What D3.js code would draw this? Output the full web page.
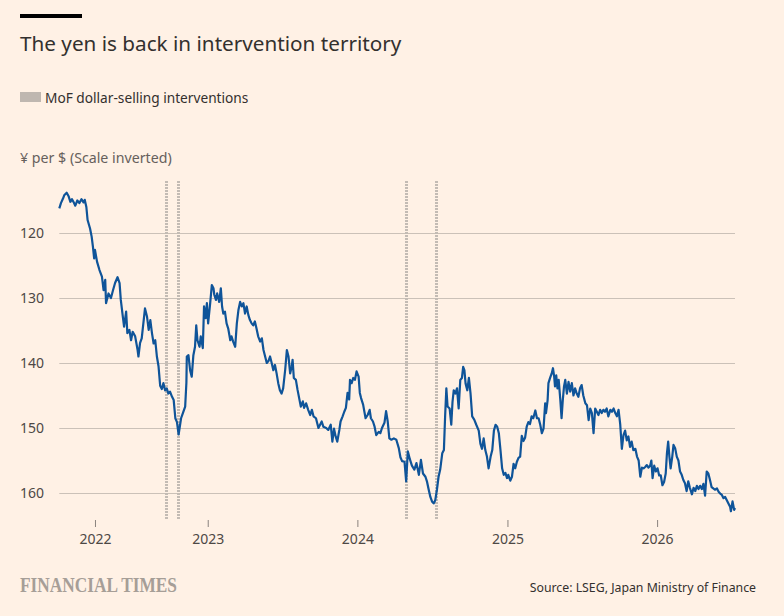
<!DOCTYPE html>
<html>
<head>
<meta charset="utf-8">
<script src="https://cdn.jsdelivr.net/npm/d3@7"></script>
<style>
    html, body { margin: 0; padding: 0; background: #fff1e5; }
    svg { display: block; font-family: "Noto Sans", "Open Sans", sans-serif; }
</style>
</head>
<body>
<div id="chart"></div>
<script>
// Yen per dollar
const dates = [
    '2022-01-04','2022-01-08','2022-01-13','2022-01-16','2022-01-22','2022-01-27','2022-01-31','2022-02-04','2022-02-09','2022-02-12',
    '2022-02-17','2022-02-22','2022-02-27','2022-03-04','2022-03-07','2022-03-11','2022-03-14','2022-03-20','2022-03-24','2022-03-27',
    '2022-03-30','2022-04-01','2022-04-06','2022-04-12','2022-04-18','2022-04-22','2022-04-26','2022-04-28','2022-05-04','2022-05-10',
    '2022-05-15','2022-05-20','2022-05-26','2022-05-31','2022-06-03','2022-06-08','2022-06-11','2022-06-16','2022-06-19','2022-06-24',
    '2022-06-28','2022-07-02','2022-07-08','2022-07-14','2022-07-16','2022-07-20','2022-07-24','2022-07-28','2022-08-01','2022-08-06',
    '2022-08-10','2022-08-14','2022-08-18','2022-08-22','2022-08-26','2022-08-30','2022-09-03','2022-09-07','2022-09-11','2022-09-15',
    '2022-09-19','2022-09-23','2022-09-27','2022-10-01','2022-10-06','2022-10-10','2022-10-14','2022-10-18','2022-10-22','2022-10-28',
    '2022-11-01','2022-11-07','2022-11-10','2022-11-11','2022-11-15','2022-11-19','2022-11-23','2022-11-27','2022-12-01','2022-12-04',
    '2022-12-07','2022-12-12','2022-12-15','2022-12-20','2022-12-23','2022-12-27','2022-12-30',
    '2023-01-02','2023-01-07','2023-01-11','2023-01-15','2023-01-17','2023-01-21','2023-01-24','2023-01-29','2023-02-02','2023-02-05',
    '2023-02-08','2023-02-12','2023-02-16','2023-02-20','2023-02-25','2023-02-28','2023-03-04','2023-03-09','2023-03-13','2023-03-17',
    '2023-03-21','2023-03-25','2023-03-29','2023-04-02','2023-04-06','2023-04-10','2023-04-14','2023-04-18','2023-04-22','2023-04-26',
    '2023-04-30','2023-05-04','2023-05-09','2023-05-13','2023-05-17','2023-05-21','2023-05-25','2023-05-29','2023-06-02','2023-06-06',
    '2023-06-10','2023-06-14','2023-06-18','2023-06-22','2023-06-26','2023-06-30','2023-07-04','2023-07-09','2023-07-13','2023-07-17',
    '2023-07-21','2023-07-25','2023-07-27','2023-07-30','2023-08-04','2023-08-08','2023-08-12','2023-08-16','2023-08-21','2023-08-24',
    '2023-08-29','2023-09-03','2023-09-08','2023-09-12','2023-09-16','2023-09-22','2023-09-28','2023-10-02','2023-10-06','2023-10-10',
    '2023-10-17','2023-10-22','2023-10-28','2023-11-01','2023-11-05','2023-11-09','2023-11-13','2023-11-18','2023-11-21','2023-11-26',
    '2023-11-30','2023-12-04','2023-12-08','2023-12-12','2023-12-14','2023-12-18','2023-12-22','2023-12-26','2023-12-30',
    '2024-01-04','2024-01-07','2024-01-10','2024-01-15','2024-01-21','2024-01-26','2024-01-31','2024-02-03','2024-02-08','2024-02-12',
    '2024-02-16','2024-02-22','2024-02-26','2024-03-01','2024-03-07','2024-03-11','2024-03-15','2024-03-19','2024-03-24','2024-03-30',
    '2024-04-05','2024-04-11','2024-04-15','2024-04-19','2024-04-25','2024-04-29','2024-05-03','2024-05-08','2024-05-13','2024-05-19',
    '2024-05-24','2024-05-30','2024-06-04','2024-06-09','2024-06-15','2024-06-19','2024-06-23','2024-06-27','2024-07-01','2024-07-05',
    '2024-07-09','2024-07-13','2024-07-17','2024-07-21','2024-07-26','2024-07-30','2024-08-02','2024-08-05','2024-08-08','2024-08-13',
    '2024-08-17','2024-08-20','2024-08-23','2024-08-27','2024-08-31','2024-09-04','2024-09-08','2024-09-12','2024-09-15','2024-09-18',
    '2024-09-21','2024-09-25','2024-09-29','2024-10-03','2024-10-07','2024-10-12','2024-10-17','2024-10-23','2024-10-27','2024-10-31',
    '2024-11-04','2024-11-08','2024-11-12','2024-11-16','2024-11-21','2024-11-25','2024-11-29','2024-12-03','2024-12-07','2024-12-11',
    '2024-12-15','2024-12-19','2024-12-23','2024-12-27','2024-12-31',
    '2025-01-03','2025-01-08','2025-01-12','2025-01-16','2025-01-20','2025-01-24','2025-01-28','2025-02-01','2025-02-05','2025-02-09',
    '2025-02-13','2025-02-17','2025-02-21','2025-02-25','2025-03-01','2025-03-05','2025-03-10','2025-03-14','2025-03-18','2025-03-22',
    '2025-03-26','2025-03-30','2025-04-03','2025-04-05','2025-04-09','2025-04-11','2025-04-15','2025-04-19','2025-04-22','2025-04-25',
    '2025-04-27','2025-04-30','2025-05-03','2025-05-06','2025-05-10','2025-05-13','2025-05-16','2025-05-19','2025-05-22','2025-05-26',
    '2025-05-30','2025-06-03','2025-06-07','2025-06-11','2025-06-15','2025-06-19','2025-06-23','2025-06-27','2025-07-01','2025-07-05',
    '2025-07-10','2025-07-14','2025-07-18','2025-07-22','2025-07-26','2025-07-30','2025-08-03','2025-08-07','2025-08-11','2025-08-15',
    '2025-08-19','2025-08-23','2025-08-27','2025-08-31','2025-09-04','2025-09-09','2025-09-13','2025-09-17','2025-09-21','2025-09-25',
    '2025-09-29','2025-10-03','2025-10-07','2025-10-11','2025-10-15','2025-10-19','2025-10-23','2025-10-27','2025-10-31','2025-11-04',
    '2025-11-09','2025-11-13','2025-11-17','2025-11-21','2025-11-25','2025-11-29','2025-12-03','2025-12-07','2025-12-11','2025-12-15',
    '2025-12-18','2025-12-21','2025-12-25','2025-12-29',
    '2026-01-02','2026-01-06','2026-01-10','2026-01-14','2026-01-18','2026-01-22','2026-01-25','2026-01-28','2026-01-31','2026-02-03',
    '2026-02-07','2026-02-10','2026-02-14','2026-02-18','2026-02-22','2026-02-26','2026-03-02','2026-03-06','2026-03-10','2026-03-14',
    '2026-03-18','2026-03-22','2026-03-27','2026-03-31','2026-04-04','2026-04-08','2026-04-12','2026-04-16','2026-04-20','2026-04-24',
    '2026-04-28','2026-05-02','2026-05-06','2026-05-10','2026-05-14','2026-05-18','2026-05-22','2026-05-27','2026-05-31','2026-06-04',
    '2026-06-08','2026-06-12','2026-06-16','2026-06-20','2026-06-24','2026-06-28','2026-06-30','2026-07-04','2026-07-08','2026-07-10'
];

const yenPerDollar = [
    116.2,115.4,114.7,114.2,113.8,114.4,115.2,114.8,115.4,115.8,
    115.0,115.4,114.8,115.3,114.9,116.0,118.0,119.3,120.6,122.1,
    123.9,122.6,124.4,125.7,126.7,128.8,127.2,130.8,129.3,130.0,
    128.8,127.7,126.8,127.7,130.3,132.9,134.4,132.1,135.4,134.9,
    136.5,135.2,135.9,138.0,139.0,136.9,136.2,133.9,131.6,132.9,
    134.9,133.4,135.4,137.0,136.5,139.0,140.5,143.5,144.0,143.1,
    144.2,143.9,144.7,144.4,145.2,145.7,148.5,149.1,151.0,148.5,
    147.8,146.7,143.0,139.0,138.8,141.1,142.1,138.8,137.5,134.2,
    136.5,137.5,135.9,137.7,131.3,133.1,130.8,
    133.9,130.8,128.0,128.5,129.5,130.3,129.3,130.6,128.5,131.3,
    132.4,132.1,133.9,134.7,136.5,135.9,136.7,137.5,133.9,131.8,
    130.6,131.3,130.8,132.4,131.3,132.6,133.4,133.9,134.2,133.6,
    134.7,135.9,136.7,136.2,138.0,139.0,140.0,139.7,139.0,140.0,
    141.1,140.3,141.6,143.1,144.2,144.7,143.9,141.0,138.0,139.0,
    141.6,140.5,139.5,142.3,142.6,144.1,145.4,146.7,145.9,146.9,
    146.2,147.2,148.0,147.2,148.2,148.5,150.0,149.5,149.0,149.8,
    150.0,150.3,149.5,152.1,150.1,151.3,152.1,150.3,149.0,148.2,
    147.5,146.9,144.6,145.6,142.6,143.1,142.3,142.6,141.3,
    142.1,144.6,145.4,146.4,148.5,148.0,147.2,148.5,149.0,149.8,
    151.1,150.6,150.8,150.0,149.2,147.4,149.0,151.6,151.8,151.6,
    151.8,153.1,154.5,155.1,155.2,158.2,153.6,154.8,155.8,156.4,
    155.4,157.2,154.9,157.0,157.5,158.3,159.5,160.6,161.3,161.6,
    161.1,159.5,157.5,156.4,153.9,153.4,148.2,143.9,146.7,147.0,
    149.5,146.0,144.2,144.7,143.9,147.0,142.6,142.3,140.6,141.1,
    143.2,144.2,142.3,144.7,148.2,148.7,149.5,150.4,152.4,153.2,
    151.6,153.4,154.4,156.2,154.4,153.4,150.4,149.5,149.8,150.8,
    153.4,156.2,157.2,156.9,157.7,
    157.2,158.1,157.5,155.5,156.2,155.2,154.6,154.4,151.2,152.0,
    151.5,149.8,149.1,149.4,148.2,148.5,147.3,148.5,148.5,149.5,
    150.8,150.1,146.2,147.7,145.7,143.1,142.3,141.6,140.8,142.1,
    143.6,141.9,143.9,142.6,145.7,148.5,145.7,143.6,142.6,144.7,
    142.9,144.4,143.1,145.0,143.9,144.7,145.2,143.9,143.4,145.0,
    146.2,146.5,148.8,147.0,147.7,150.8,147.0,147.5,148.0,147.2,
    147.7,147.2,147.5,147.0,148.2,147.2,147.5,147.0,147.7,148.2,
    147.2,149.4,153.2,151.1,150.4,151.9,151.3,152.9,152.1,153.4,
    153.2,154.4,155.0,157.5,156.1,156.2,156.0,155.7,156.1,155.8,
    155.0,157.7,155.8,156.7,
    156.2,157.3,157.3,158.8,158.3,157.0,153.9,152.1,154.4,156.2,
    154.4,152.6,153.1,154.4,155.0,156.7,157.2,158.0,158.5,159.7,
    158.2,159.2,160.2,159.2,159.7,158.9,159.4,158.9,159.4,158.6,
    160.4,156.7,157.0,158.0,159.1,159.3,159.5,159.3,159.8,160.1,
    160.3,160.8,160.6,161.1,161.6,162.1,162.8,161.3,162.6,162.3
];

// MoF dollar-selling intervention days
const interventionDates = ['2022-09-22', '2022-10-21', '2024-04-29', '2024-07-11'];

const yTicks = [120, 130, 140, 150, 160];
const xTickDates = ['2022-04-01', '2023-01-01', '2024-01-01', '2025-01-01', '2026-01-01'];
const xTickLabels = ['2022', '2023', '2024', '2025', '2026'];

const parseDate = d3.timeParse('%Y-%m-%d');

function drawChart() {
    const svgWidth = 784;
    const svgHeight = 616;
    const margin = { top: 181, right: 49, bottom: 97, left: 59.3 };
    const width = svgWidth - margin.left - margin.right;
    const height = svgHeight - margin.top - margin.bottom;

    const series = dates.map((d, i) => ({ date: parseDate(d), value: yenPerDollar[i] }));

    const svg = d3.select('#chart')
        .append('svg')
        .attr('width', svgWidth)
        .attr('height', svgHeight);

    svg.append('rect')
        .attr('width', svgWidth)
        .attr('height', svgHeight)
        .attr('fill', '#fff1e5');

    // header
    svg.append('rect')
        .attr('x', 20).attr('y', 14)
        .attr('width', 62).attr('height', 4)
        .attr('fill', '#000');

    svg.append('text')
        .attr('x', 20).attr('y', 51)
        .attr('font-size', 20.7)
        .attr('fill', '#33302e')
        .text('The yen is back in intervention territory');

    svg.append('rect')
        .attr('x', 20).attr('y', 92)
        .attr('width', 21).attr('height', 10)
        .attr('fill', '#bfb7b0');

    svg.append('text')
        .attr('x', 45).attr('y', 103)
        .attr('font-size', 13.7)
        .attr('fill', '#33302e')
        .text('MoF dollar-selling interventions');

    svg.append('text')
        .attr('x', 20).attr('y', 163)
        .attr('font-size', 14.2)
        .attr('fill', '#66605c')
        .text('¥ per $ (Scale inverted)');

    const g = svg.append('g')
        .attr('transform', `translate(${margin.left}, ${margin.top})`);

    const xScale = d3.scaleTime()
        .domain([parseDate('2022-01-04'), parseDate('2026-07-10')])
        .range([0, width]);

    // inverted: small values at the top
    const yScale = d3.scaleLinear()
        .domain([112, 164])
        .range([0, height]);

    const yAxis = g.append('g')
        .call(d3.axisLeft(yScale)
            .tickValues(yTicks)
            .tickSize(-width)
            .tickFormat(d3.format('d')));
    yAxis.select('.domain').remove();
    yAxis.selectAll('.tick line').attr('stroke', '#cbc1b8');
    yAxis.selectAll('.tick text')
        .attr('x', 20 - margin.left)
        .attr('text-anchor', 'start')
        .attr('font-size', 14)
        .attr('font-family', '"Noto Sans", sans-serif')
        .attr('fill', '#4d4845');

    // intervention markers, snapped to whole pixels so the dots stay crisp
    const snapX = (d) => Math.round(margin.left + xScale(parseDate(d))) - margin.left + 0.5;
    g.selectAll('.intervention')
        .data(interventionDates)
        .enter()
        .append('line')
        .attr('class', 'intervention')
        .attr('x1', snapX)
        .attr('x2', snapX)
        .attr('y1', 0)
        .attr('y2', height)
        .attr('stroke', '#c3bbb4')
        .attr('stroke-width', 3)
        .attr('stroke-dasharray', '2,1');

    const line = d3.line()
        .x((d) => xScale(d.date))
        .y((d) => yScale(d.value));

    g.append('path')
        .datum(series)
        .attr('fill', 'none')
        .attr('stroke', '#0f5499')
        .attr('stroke-width', 2.2)
        .attr('stroke-linejoin', 'round')
        .attr('d', line);

    const xAxis = g.append('g')
        .attr('transform', `translate(0, ${height + 1})`)
        .call(d3.axisBottom(xScale)
            .tickValues(xTickDates.map(parseDate))
            .tickFormat((d, i) => xTickLabels[i])
            .tickSize(7)
            .tickPadding(7));
    xAxis.select('.domain').remove();
    xAxis.selectAll('.tick line').attr('stroke', '#8a837e');
    xAxis.selectAll('.tick text')
        .attr('font-size', 14)
        .attr('font-family', '"Noto Sans", sans-serif')
        .attr('fill', '#4d4845');

    // footer
    svg.append('text')
        .attr('x', 20).attr('y', 592)
        .attr('font-family', '"Liberation Serif", serif')
        .attr('font-weight', 'bold')
        .attr('font-size', 21)
        .attr('textLength', 157)
        .attr('lengthAdjust', 'spacingAndGlyphs')
        .attr('fill', '#a69e97')
        .text('FINANCIAL TIMES');

    svg.append('text')
        .attr('x', 756).attr('y', 592)
        .attr('text-anchor', 'end')
        .attr('font-size', 12.3)
        .attr('fill', '#33302e')
        .text('Source: LSEG, Japan Ministry of Finance');
}

drawChart();
</script>
</body>
</html>
